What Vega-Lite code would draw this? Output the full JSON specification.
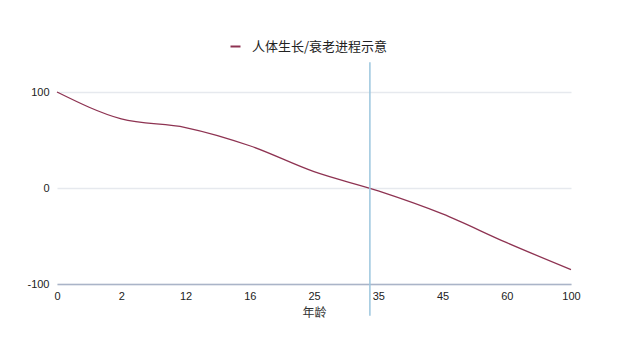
{
  "$schema": "https://vega.github.io/schema/vega-lite/v6.json",
  "autosize": {"type": "none"},
  "padding": {"left": 57, "top": 92, "right": 69, "bottom": 76},
  "width": 514,
  "height": 192,
  "background": "white",
  "config": {
    "view": {"stroke": null},
    "font": "Liberation Sans",
    "axis": {"labelFont": "Liberation Sans", "titleFont": "Noto Sans CJK SC", "labelColor": "#222", "titleColor": "#333"},
    "legend": {"labelFont": "Noto Sans CJK SC"}
  },
  "datasets": {
    "curve": [
      {"step": 0, "age": "0", "value": 100, "series": "人体生长/衰老进程示意"},
      {"step": 1, "age": "2", "value": 72, "series": "人体生长/衰老进程示意"},
      {"step": 2, "age": "12", "value": 63, "series": "人体生长/衰老进程示意"},
      {"step": 3, "age": "16", "value": 44, "series": "人体生长/衰老进程示意"},
      {"step": 4, "age": "25", "value": 17, "series": "人体生长/衰老进程示意"},
      {"step": 5, "age": "35", "value": -3, "series": "人体生长/衰老进程示意"},
      {"step": 6, "age": "45", "value": -27, "series": "人体生长/衰老进程示意"},
      {"step": 7, "age": "60", "value": -57, "series": "人体生长/衰老进程示意"},
      {"step": 8, "age": "100", "value": -85, "series": "人体生长/衰老进程示意"}
    ],
    "marker": [
      {"step": 4.87, "top": 131, "bottom": -133}
    ]
  },
  "layer": [
    {
      "data": {"name": "curve"},
      "mark": {"type": "line", "interpolate": "monotone", "strokeWidth": 1.3},
      "encoding": {
        "x": {
          "field": "step", "type": "quantitative",
          "scale": {"domain": [0, 8], "nice": false, "zero": false},
          "axis": {
            "title": "年龄", "titleFontSize": 12, "titleFontWeight": "normal", "titlePadding": 6,
            "values": [0, 1, 2, 3, 4, 5, 6, 7, 8],
            "labelExpr": "['0','2','12','16','25','35','45','60','100'][datum.value]",
            "labelFontSize": 11, "labelPadding": 6, "labelFlush": false, "labelBound": false, "labelOverlap": false,
            "ticks": false, "grid": false,
            "domainColor": "#aab4c8", "domainWidth": 1.5
          }
        },
        "y": {
          "field": "value", "type": "quantitative",
          "scale": {"domain": [-100, 100], "nice": false},
          "axis": {
            "title": null, "values": [-100, 0, 100],
            "labelExpr": "'' + datum.value",
            "labelFontSize": 11, "labelPadding": 8,
            "ticks": false, "domain": false,
            "gridColor": "#e6e9ee", "gridWidth": 1.5
          }
        },
        "color": {
          "field": "series", "type": "nominal",
          "scale": {"range": ["#8e3352"]},
          "legend": {
            "title": null, "orient": "none", "legendX": 172, "legendY": -52,
            "symbolType": "stroke", "symbolSize": 100, "symbolStrokeWidth": 2,
            "symbolStrokeColor": "#a4566f",
            "labelFontSize": 13, "labelColor": "#222", "labelOffset": 10
          }
        }
      }
    },
    {
      "data": {"name": "marker"},
      "mark": {"type": "rule", "color": "#9cc6de", "strokeWidth": 1.5, "clip": false},
      "encoding": {
        "x": {"field": "step", "type": "quantitative"},
        "y": {"field": "top", "type": "quantitative"},
        "y2": {"field": "bottom"}
      }
    }
  ]
}
